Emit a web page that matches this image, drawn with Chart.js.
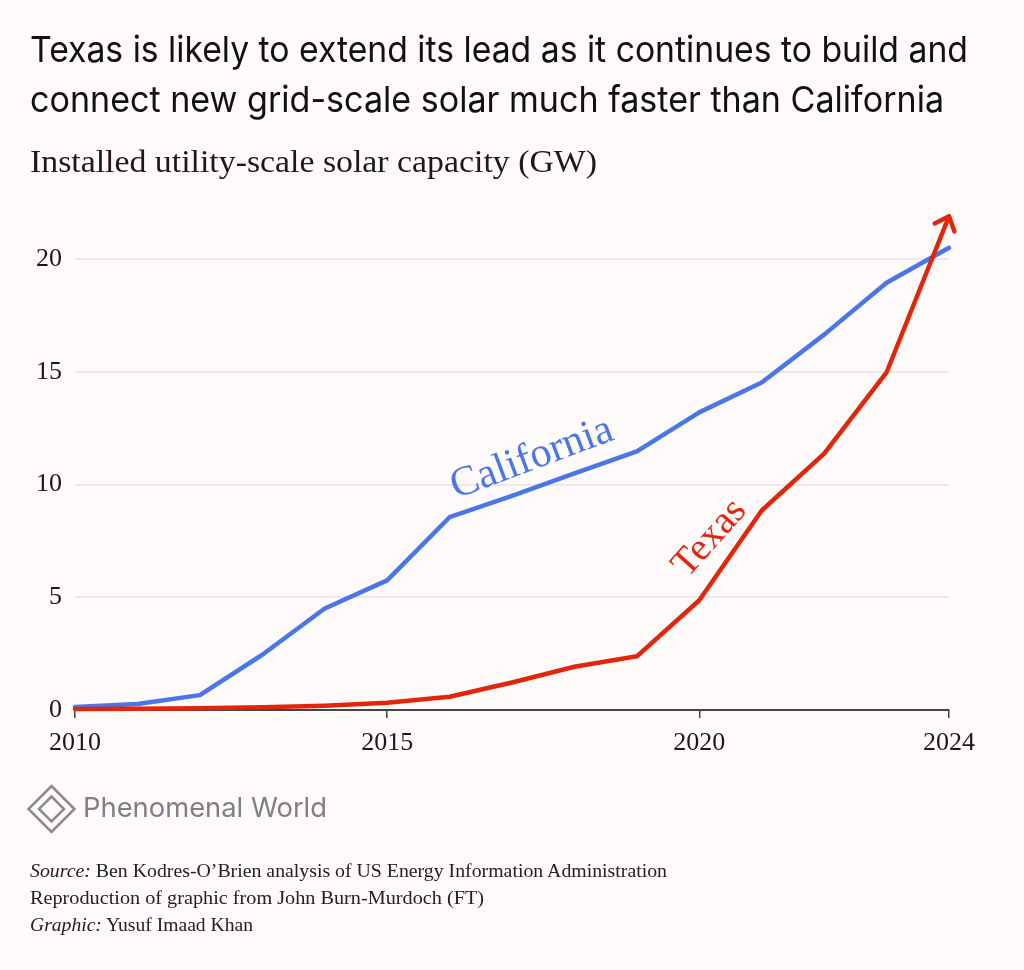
<!DOCTYPE html>
<html>
<head>
<meta charset="utf-8">
<script src="https://cdn.jsdelivr.net/npm/chart.js@4"></script>
<style>
  html, body { margin: 0; padding: 0; background: #fdfaf9; }
  body { width: 1024px; height: 970px; position: relative; overflow: hidden; }
  #wrap { position: absolute; left: 0; top: 0; width: 1024px; height: 970px; }
  .txt { position: absolute; white-space: nowrap; transform-origin: left top; }
  .title { font-family: Inter, Roboto, sans-serif; font-size: 36px; line-height: 50px; color: #111; left: 30px; }
  .sub { font-family: "Liberation Serif", serif; font-size: 32px; line-height: 32px; color: #1a1a1a; left: 30px; top: 145px; }
  .brand { font-family: Inter, Roboto, sans-serif; font-size: 27px; line-height: 27px; color: #808080; left: 83px; top: 794px; }
  .src { font-family: "Liberation Serif", serif; font-size: 18px; line-height: 27px; color: #222; left: 30px; }
  #logo { position: absolute; left: 25px; top: 782px; }
</style>
</head>
<body>
<div id="wrap"><canvas id="chart"></canvas></div>

<div class="txt title fit" data-w="938" style="top:24px">Texas is likely to extend its lead as it continues to build and</div>
<div class="txt title fit" data-w="914" style="top:74px">connect new grid-scale solar much faster than California</div>
<div class="txt sub fit" data-w="567">Installed utility-scale solar capacity (GW)</div>

<svg id="logo" width="54" height="54" viewBox="0 0 54 54">
  <polygon points="26.5,4 49.5,27 26.5,50 3.5,27" fill="none" stroke="#8c8c8c" stroke-width="2.5"/>
  <polygon points="26.5,14.5 39,27 26.5,39.5 14,27" fill="none" stroke="#8c8c8c" stroke-width="2.5"/>
</svg>
<div class="txt brand fit" data-w="244">Phenomenal World</div>

<div class="txt src fit" data-w="637" style="top:858px"><i>Source:</i> Ben Kodres-O’Brien analysis of US Energy Information Administration</div>
<div class="txt src fit" data-w="454" style="top:885px">Reproduction of graphic from John Burn-Murdoch (FT)</div>
<div class="txt src fit" data-w="223" style="top:912px"><i>Graphic:</i> Yusuf Imaad Khan</div>

<script>
// --- data ---
const years = [2010, 2011, 2012, 2013, 2014, 2015, 2016, 2017, 2018, 2019, 2020, 2021, 2022, 2023, 2024];
const california = [0.13, 0.27, 0.66, 2.45, 4.5, 5.75, 8.55, 9.5, 10.5, 11.47, 13.2, 14.53, 16.65, 18.95, 20.5];
const texas = [0.04, 0.06, 0.08, 0.12, 0.19, 0.32, 0.59, 1.22, 1.92, 2.38, 4.87, 8.85, 11.37, 14.97, 21.9];
const xTickYears = [2010, 2015, 2020, 2024];
const yTickValues = [0, 5, 10, 15, 20];

const BLUE = '#4a76ea';
const RED = '#e2260c';
const SERIF = '"Liberation Serif", serif';

// line labels, anchored in data units
const seriesLabels = [
    { text: 'California', year: 2017.32, value: 11.15, angle: -20.5, color: BLUE, size: 42 },
    { text: 'Texas', year: 2020.17, value: 7.62, angle: -48, color: RED, size: 39 }
];

const toPoints = (vals) => years.map((yr, i) => ({ x: yr, y: vals[i] }));

// arrowhead on the last Texas segment + rotated series labels
const decorations = {
    id: 'decorations',
    afterDatasetsDraw(chart) {
        const ctx = chart.ctx;
        const xs = chart.scales.x, ys = chart.scales.y;

        const meta = chart.getDatasetMeta(1);
        const pts = meta.data;
        const tip = pts[pts.length - 1], prev = pts[pts.length - 2];
        const ang = Math.atan2(tip.y - prev.y, tip.x - prev.x);
        const len = 16, spread = Math.PI * 0.23;
        ctx.save();
        ctx.strokeStyle = RED;
        ctx.lineWidth = 4.5;
        ctx.lineCap = 'round';
        ctx.lineJoin = 'round';
        ctx.beginPath();
        ctx.moveTo(tip.x - len * Math.cos(ang - spread), tip.y - len * Math.sin(ang - spread));
        ctx.lineTo(tip.x, tip.y);
        ctx.lineTo(tip.x - len * Math.cos(ang + spread), tip.y - len * Math.sin(ang + spread));
        ctx.stroke();
        ctx.restore();

        seriesLabels.forEach(l => {
            ctx.save();
            ctx.translate(xs.getPixelForValue(l.year), ys.getPixelForValue(l.value));
            ctx.rotate(l.angle * Math.PI / 180);
            ctx.font = `${l.size}px ${SERIF}`;
            ctx.fillStyle = l.color;
            ctx.textAlign = 'center';
            ctx.textBaseline = 'middle';
            ctx.fillText(l.text, 0, 0);
            ctx.restore();
        });
    }
};

new Chart(document.getElementById('chart'), {
    type: 'line',
    data: {
        datasets: [
            { label: 'California', data: toPoints(california), borderColor: BLUE, order: 1 },
            { label: 'Texas', data: toPoints(texas), borderColor: RED, order: 0 }
        ]
    },
    options: {
        responsive: true,
        maintainAspectRatio: false,
        animation: false,
        layout: { padding: { top: 214, right: 75, bottom: 210, left: 0 } },
        elements: {
            line: { borderWidth: 4.5, tension: 0, borderCapStyle: 'round', borderJoinStyle: 'round', fill: false },
            point: { radius: 0, hoverRadius: 0 }
        },
        datasets: { line: { clip: false } },
        plugins: { legend: { display: false }, tooltip: { enabled: false } },
        scales: {
            x: {
                type: 'linear',
                min: 2010,
                max: 2024,
                afterBuildTicks: (s) => { s.ticks = xTickYears.map(v => ({ value: v })); },
                afterFit: (s) => { s.height = 50; },
                grid: { drawOnChartArea: false, drawTicks: true, tickLength: 8, color: '#444', lineWidth: 1.5 },
                border: { display: true, color: '#444', width: 2 },
                ticks: {
                    padding: 10,
                    color: '#1a1a1a',
                    font: { family: SERIF, size: 26 },
                    callback: (v) => String(v),
                    maxRotation: 0
                }
            },
            y: {
                min: 0,
                max: 22,
                afterBuildTicks: (s) => { s.ticks = yTickValues.map(v => ({ value: v })); },
                afterFit: (s) => { s.width = 75; },
                grid: {
                    drawTicks: false,
                    lineWidth: 2,
                    color: (c) => c.tick && c.tick.value === 0 ? 'rgba(0,0,0,0)' : '#ebe8e6'
                },
                border: { display: false },
                ticks: {
                    padding: 13,
                    color: '#1a1a1a',
                    font: { family: SERIF, size: 26 }
                }
            }
        }
    },
    plugins: [decorations]
});

// stretch text blocks to the widths measured on the reference
document.fonts.ready.then(() => {
    document.querySelectorAll('.fit').forEach(el => {
        const w = el.getBoundingClientRect().width;
        const target = parseFloat(el.dataset.w);
        if (w > 0) el.style.transform = `scaleX(${(target / w).toFixed(4)})`;
    });
});
</script>
</body>
</html>
